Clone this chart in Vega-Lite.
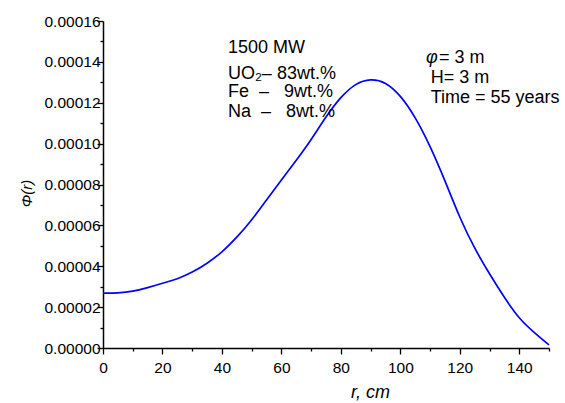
{
  "$schema": "https://vega.github.io/schema/vega-lite/v6.json",
  "width": 446,
  "height": 327,
  "autosize": "none",
  "padding": {"left": 103, "top": 21, "right": 16, "bottom": 55},
  "background": "white",
  "config": {
    "view": {"stroke": null},
    "font": "Liberation Sans",
    "axis": {
      "grid": false,
      "domainColor": "#000000",
      "domainWidth": 1.5,
      "tickColor": "#000000",
      "tickWidth": 1.3,
      "labelColor": "#000000",
      "labelFont": "Liberation Sans",
      "labelFontSize": 15.5,
      "titleColor": "#000000",
      "titleFont": "Liberation Sans",
      "titleFontWeight": "normal",
      "titleFontStyle": "italic"
    }
  },
  "datasets": {
    "flux": [
      {"r": 0, "phi": 0.0000268},
      {"r": 5, "phi": 0.0000269},
      {"r": 10, "phi": 0.0000276},
      {"r": 15, "phi": 0.0000295},
      {"r": 20, "phi": 0.0000317},
      {"r": 25, "phi": 0.0000337},
      {"r": 30, "phi": 0.0000370},
      {"r": 35, "phi": 0.0000413},
      {"r": 40, "phi": 0.0000468},
      {"r": 45, "phi": 0.0000540},
      {"r": 50, "phi": 0.0000625},
      {"r": 55, "phi": 0.0000725},
      {"r": 60, "phi": 0.0000822},
      {"r": 65, "phi": 0.0000918},
      {"r": 70, "phi": 0.0001018},
      {"r": 75, "phi": 0.0001133},
      {"r": 80, "phi": 0.0001230},
      {"r": 85, "phi": 0.0001296},
      {"r": 90, "phi": 0.0001318},
      {"r": 95, "phi": 0.0001303},
      {"r": 100, "phi": 0.0001238},
      {"r": 105, "phi": 0.0001132},
      {"r": 110, "phi": 0.0000990},
      {"r": 115, "phi": 0.0000820},
      {"r": 120, "phi": 0.0000635},
      {"r": 125, "phi": 0.0000485},
      {"r": 130, "phi": 0.0000362},
      {"r": 135, "phi": 0.0000246},
      {"r": 140, "phi": 0.0000142},
      {"r": 145, "phi": 0.0000076},
      {"r": 150, "phi": 0.0000015}
    ],
    "notes": [
      {"label": "1500 MW", "r": 42.0, "phi": 0.0001468},
      {"label": "UO₂– 83wt.%", "r": 42.0, "phi": 0.0001343},
      {"label": "Fe\u00a0\u00a0–\u00a0\u00a0\u00a09wt.%", "r": 42.0, "phi": 0.0001255},
      {"label": "Na\u00a0\u00a0–\u00a0\u00a0\u00a08wt.%", "r": 42.0, "phi": 0.0001157},
      {"label": "= 3 m", "r": 113.0, "phi": 0.0001421},
      {"label": "H= 3 m", "r": 110.2, "phi": 0.0001321},
      {"label": "Time = 55 years", "r": 110.2, "phi": 0.0001223}
    ],
    "symbols": [
      {"label": "φ", "r": 108.6, "phi": 0.0001421}
    ]
  },
  "resolve": {"axis": {"x": "independent", "y": "independent"}},
  "layer": [
    {
      "data": {"name": "flux"},
      "mark": {"type": "line", "color": "#0000ff", "strokeWidth": 1.7, "interpolate": "basis"},
      "encoding": {
        "x": {
          "field": "r",
          "type": "quantitative",
          "scale": {"domain": [0, 150], "nice": false, "zero": false},
          "axis": {
            "orient": "bottom",
            "values": [0, 20, 40, 60, 80, 100, 120, 140],
            "format": "d",
            "tickSize": 6,
            "labelPadding": 6,
            "labelFlush": false,
            "labelOverlap": false,
            "title": "r, cm",
            "titleFontSize": 18,
            "titleX": 267,
            "titleY": 49,
            "titleBaseline": "alphabetic",
            "titleAlign": "center"
          }
        },
        "y": {
          "field": "phi",
          "type": "quantitative",
          "scale": {"domain": [0, 0.00016], "nice": false, "zero": true},
          "axis": {
            "orient": "left",
            "values": [0, 0.00002, 0.00004, 0.00006, 0.00008, 0.0001, 0.00012, 0.00014, 0.00016],
            "format": ".5f",
            "tickSize": 6,
            "labelPadding": -3,
            "labelFlush": false,
            "labelOverlap": false,
            "title": "Φ(r)",
            "titleFontSize": 15,
            "titleX": -77,
            "titleY": 172,
            "titleBaseline": "middle",
            "titleAlign": "center"
          }
        }
      }
    },
    {
      "data": {"name": "notes"},
      "mark": {"type": "text", "align": "left", "baseline": "middle", "fontSize": 18, "font": "Liberation Sans", "color": "#000000"},
      "encoding": {
        "x": {
          "field": "r",
          "type": "quantitative",
          "axis": {
            "orient": "bottom",
            "values": [10, 30, 50, 70, 90, 110, 130, 150],
            "tickSize": 3,
            "labels": false,
            "domain": false,
            "title": null
          }
        },
        "y": {
          "field": "phi",
          "type": "quantitative",
          "axis": {
            "orient": "left",
            "values": [0.00001, 0.00003, 0.00005, 0.00007, 0.00009, 0.00011, 0.00013, 0.00015],
            "tickSize": 3,
            "labels": false,
            "domain": false,
            "title": null
          }
        },
        "text": {"field": "label"}
      }
    },
    {
      "data": {"name": "symbols"},
      "mark": {"type": "text", "align": "left", "baseline": "middle", "fontSize": 18, "fontStyle": "italic", "font": "Liberation Sans", "color": "#000000"},
      "encoding": {
        "x": {"field": "r", "type": "quantitative", "axis": null},
        "y": {"field": "phi", "type": "quantitative", "axis": null},
        "text": {"field": "label"}
      }
    }
  ]
}
